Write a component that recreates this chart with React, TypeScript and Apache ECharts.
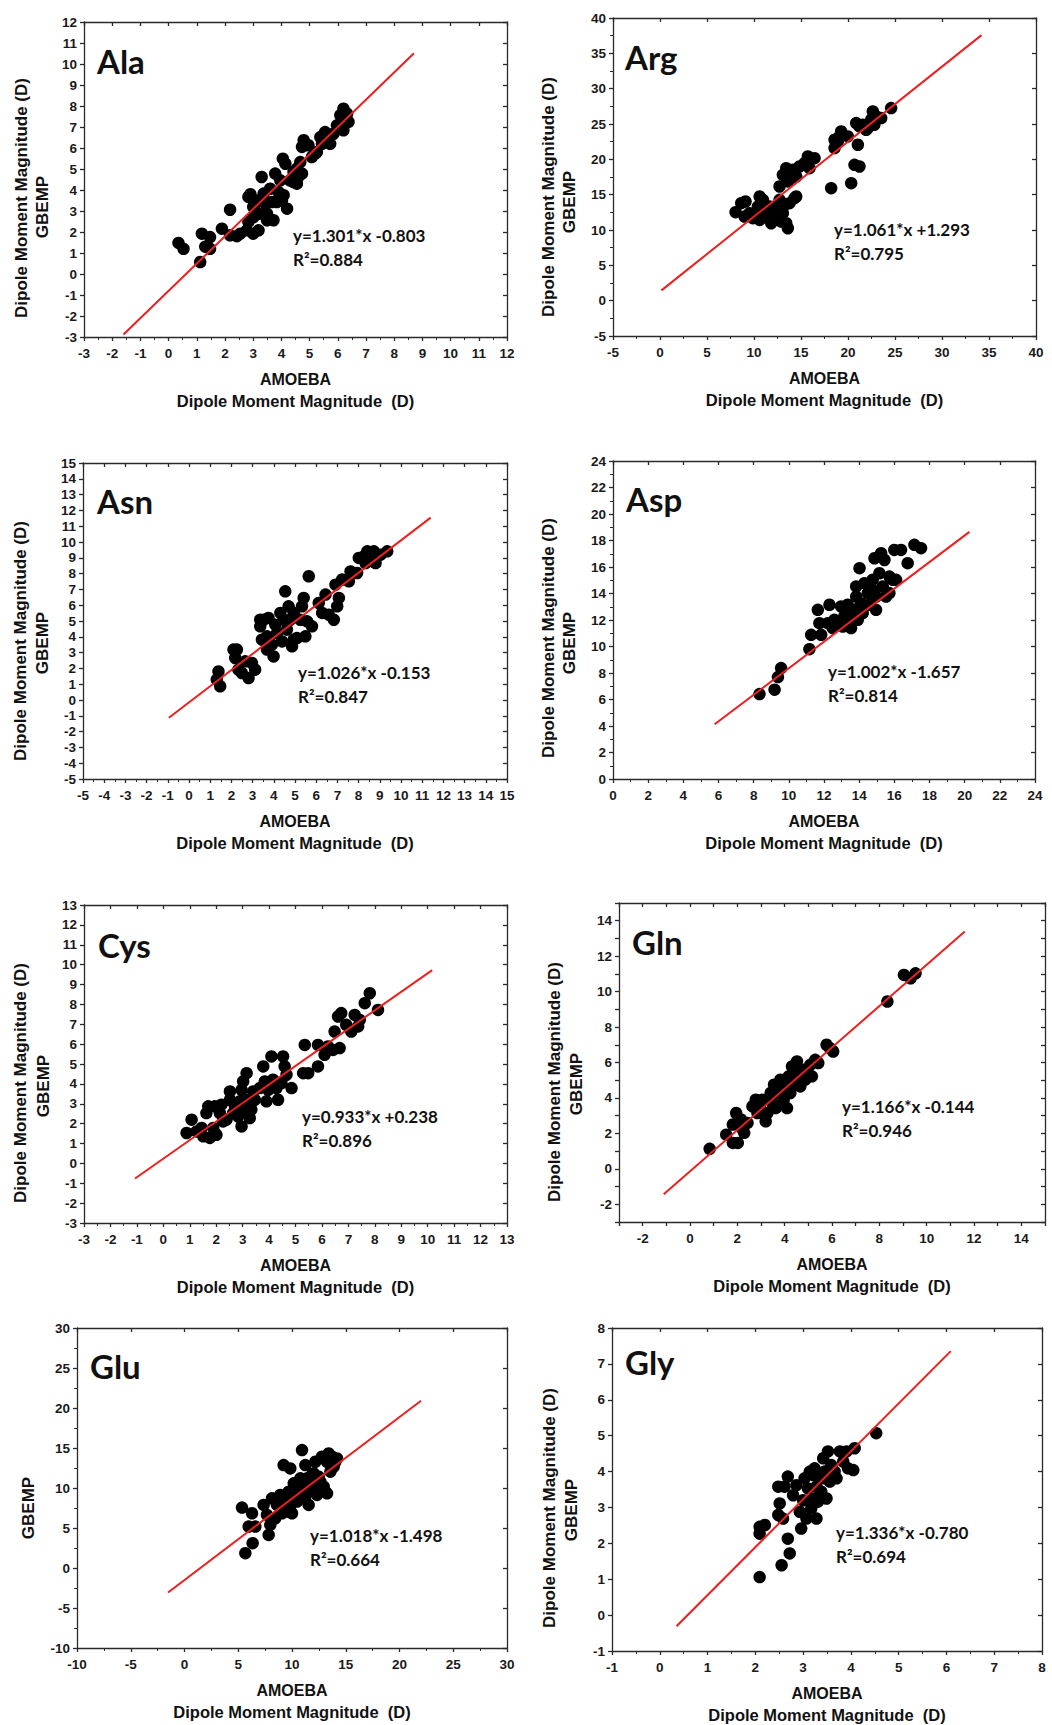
import React, { useEffect, useRef } from "react";
import * as echarts from "echarts";

// AMOEBA (x) vs GBEMP (y) dipole moment magnitudes, in Debye, per residue.
const alaPoints = [[0.35,1.48],[0.53,1.2],[1.12,0.57],[1.18,1.92],[1.3,1.3],[1.47,1.2],[1.47,1.76],[1.89,2.16],[2.18,3.06],[2.18,1.84],[2.42,1.8],[2.54,1.92],[2.77,2.08],[2.83,2.48],[3.0,2.7],[3.0,1.92],[3.19,2.08],[2.83,3.67],[2.9,3.8],[3.07,3.35],[3.19,2.87],[3.3,4.62],[3.37,3.83],[3.43,3.35],[3.49,2.87],[3.6,4.06],[3.66,3.43],[3.72,2.56],[3.78,4.78],[3.9,3.9],[3.96,4.46],[4.02,3.5],[4.08,3.75],[4.2,3.11],[4.05,5.49],[4.14,5.25],[4.3,4.46],[4.43,4.38],[4.55,5.02],[4.6,4.62],[4.67,5.33],[4.73,4.78],[4.55,4.3],[4.73,6.05],[4.79,6.37],[4.96,6.13],[5.08,5.57],[5.2,5.73],[5.26,5.81],[5.38,6.52],[5.44,6.2],[5.55,6.76],[5.67,6.44],[5.73,6.2],[5.85,6.68],[5.97,7.08],[6.09,7.56],[6.15,7.0],[6.2,7.87],[6.33,7.3],[6.33,7.63],[6.38,7.24],[6.2,6.84],[5.64,6.36],[3.84,3.43],[3.49,2.56],[3.13,3.5],[4.43,4.86],[3.0,3.2]];

const argPoints = [[8.04,12.52],[8.64,13.8],[9.1,14.03],[9.0,11.9],[9.53,12.38],[9.88,11.67],[10.6,14.74],[10.41,13.32],[10.95,14.27],[10.6,11.43],[11.3,12.85],[11.48,11.67],[11.83,10.96],[12.0,12.38],[12.36,13.09],[12.54,11.9],[12.72,14.27],[12.9,11.2],[13.25,13.56],[13.43,10.96],[13.6,10.25],[13.07,12.38],[13.78,13.8],[14.31,14.5],[14.49,14.74],[12.72,16.16],[13.07,17.81],[13.6,16.87],[13.78,18.05],[14.14,18.52],[14.49,17.57],[14.84,18.99],[15.38,19.46],[15.73,20.41],[15.91,18.75],[16.44,20.17],[13.43,18.75],[13.96,17.34],[18.21,15.92],[18.57,22.77],[18.57,21.59],[18.92,22.53],[19.27,23.95],[19.1,23.24],[19.98,23.24],[20.34,16.63],[20.69,19.22],[21.05,22.06],[21.22,18.99],[20.87,25.13],[21.22,24.66],[21.58,24.89],[22.1,24.42],[22.46,25.6],[22.64,26.78],[22.99,26.07],[23.53,25.84],[24.59,27.25],[22.8,24.89],[21.93,24.18],[10.95,12.38],[11.65,13.32],[12.18,11.43],[12.72,12.85],[10.24,12.38]];

const asnPoints = [[1.31,1.29],[1.39,1.81],[1.47,0.87],[2.1,3.19],[2.18,2.66],[2.26,3.19],[2.33,1.92],[2.49,1.71],[2.65,2.45],[2.81,1.39],[2.97,2.34],[3.12,1.92],[3.36,4.66],[3.44,3.82],[3.52,5.08],[3.68,3.19],[3.75,5.19],[3.91,3.5],[3.99,2.76],[4.07,4.77],[4.15,4.24],[4.31,5.51],[4.39,3.71],[4.46,5.08],[4.54,6.88],[4.62,4.45],[4.7,5.93],[4.78,5.08],[4.86,3.4],[4.94,5.51],[5.09,3.92],[5.25,5.08],[5.33,5.93],[5.41,6.46],[5.49,4.03],[5.57,4.98],[5.65,7.83],[5.8,4.66],[6.12,6.14],[6.28,5.51],[6.44,6.67],[6.59,5.4],[6.83,5.08],[6.99,5.93],[7.07,6.46],[6.91,7.3],[7.22,7.62],[7.54,7.51],[7.62,8.14],[7.93,8.04],[8.01,8.99],[8.25,9.09],[8.41,9.41],[8.56,8.88],[8.72,9.41],[8.8,8.67],[9.04,9.2],[9.35,9.41],[8.33,8.67],[3.68,4.03],[4.94,3.82],[3.36,5.08]];

const aspPoints = [[8.33,6.41],[9.19,6.74],[9.38,7.69],[9.56,8.37],[11.17,9.8],[11.27,10.88],[11.65,12.77],[11.74,11.76],[11.84,10.88],[12.31,13.15],[12.22,11.76],[12.5,11.39],[12.78,11.89],[12.97,13.02],[13.07,11.51],[13.16,12.27],[13.35,13.15],[13.45,12.01],[13.54,11.39],[13.73,12.77],[13.83,13.77],[13.92,12.01],[14.02,15.91],[14.11,13.27],[13.83,14.53],[14.2,12.52],[14.3,14.78],[14.49,14.03],[14.58,13.15],[14.77,15.04],[14.87,16.66],[14.96,13.77],[14.96,12.77],[15.15,15.53],[15.25,17.04],[15.34,14.53],[15.44,16.53],[15.53,13.77],[15.72,15.28],[15.91,15.03],[16.0,17.29],[16.1,15.03],[16.38,17.29],[16.76,16.29],[17.14,17.67],[17.52,17.42],[15.72,14.03],[14.77,14.28],[13.26,12.77],[12.59,12.01]];

const cysPoints = [[0.88,1.53],[1.07,2.2],[1.26,1.61],[1.45,1.78],[1.51,1.36],[1.63,2.53],[1.7,2.87],[1.76,1.28],[1.89,1.78],[1.95,2.87],[2.01,1.44],[2.14,2.53],[2.2,2.95],[2.26,2.11],[2.39,2.2],[2.52,3.2],[2.52,3.62],[2.64,2.53],[2.71,2.87],[2.83,2.36],[2.89,3.12],[2.96,3.7],[2.96,1.86],[3.02,4.12],[3.08,2.7],[3.15,4.54],[3.21,3.2],[3.27,2.28],[3.33,2.7],[3.46,3.2],[3.65,3.79],[3.78,4.88],[3.84,4.12],[3.9,3.12],[3.97,3.7],[4.09,5.38],[4.15,4.21],[4.28,3.79],[4.34,3.2],[4.47,4.04],[4.53,5.38],[4.59,4.88],[4.66,4.46],[4.85,3.79],[5.29,4.54],[5.35,5.96],[5.48,4.54],[5.85,4.88],[5.85,5.96],[6.1,5.46],[6.23,5.88],[6.42,5.71],[6.48,6.63],[6.61,7.39],[6.67,5.8],[6.73,7.56],[6.92,6.97],[7.11,6.63],[7.24,7.47],[7.43,7.22],[7.62,8.06],[7.81,8.56],[8.12,7.72],[7.37,6.89],[3.4,3.62]];

const glnPoints = [[0.83,1.13],[1.53,1.93],[1.81,1.46],[2.02,1.46],[1.81,2.5],[1.95,3.15],[2.16,2.78],[2.29,2.03],[2.43,2.59],[2.64,3.53],[2.78,3.9],[2.85,3.15],[2.99,3.34],[3.06,3.9],[3.2,2.68],[3.27,3.15],[3.41,4.28],[3.48,3.71],[3.55,4.75],[3.62,3.43],[3.76,4.28],[3.82,5.03],[3.96,3.9],[4.03,4.65],[4.1,3.43],[4.17,5.22],[4.24,4.28],[4.31,5.78],[4.38,4.84],[4.52,6.06],[4.59,5.31],[4.66,4.65],[4.8,5.59],[4.87,5.03],[5.08,5.87],[5.15,5.22],[5.29,6.15],[5.42,5.97],[5.77,7.0],[5.91,6.81],[6.05,6.62],[8.34,9.44],[9.04,10.94],[9.32,10.75],[9.53,11.03],[3.89,4.56],[3.06,3.15],[2.23,2.21]];

const gluPoints = [[5.35,7.55],[5.66,1.85],[5.97,5.18],[6.28,6.84],[6.34,3.1],[6.59,5.18],[7.36,7.88],[7.67,6.63],[7.83,4.14],[7.98,5.38],[8.14,8.71],[8.45,6.22],[8.6,7.88],[8.91,9.13],[9.07,6.84],[9.22,12.87],[9.38,7.88],[9.53,8.3],[9.69,9.54],[9.84,12.45],[10.0,6.84],[10.16,10.58],[10.31,9.13],[10.47,8.3],[10.62,9.96],[10.78,8.71],[10.93,14.74],[11.09,10.17],[11.24,12.87],[11.24,8.92],[11.4,11.21],[11.55,7.88],[11.71,9.75],[11.86,11.62],[12.02,10.37],[12.17,13.28],[12.33,9.13],[12.64,10.79],[12.79,13.91],[12.95,10.17],[13.1,9.54],[13.26,13.28],[13.41,14.32],[13.57,12.04],[13.88,12.66],[14.03,13.28],[14.19,13.7],[13.72,13.91],[13.26,9.33],[9.53,7.05],[9.84,7.88],[10.47,9.54],[10.78,11.21],[12.02,11.83],[12.48,11.41]];

const glyPoints = [[2.09,1.06],[2.09,2.46],[2.09,2.27],[2.2,2.51],[2.48,2.79],[2.48,3.58],[2.51,3.11],[2.55,1.39],[2.58,2.69],[2.61,3.58],[2.68,3.86],[2.68,2.13],[2.72,1.72],[2.79,3.34],[2.86,3.62],[2.93,2.88],[2.96,2.41],[3.0,3.2],[3.03,3.81],[3.07,2.69],[3.1,3.53],[3.14,4.0],[3.17,2.97],[3.21,3.25],[3.24,4.09],[3.28,3.58],[3.31,3.16],[3.35,3.81],[3.38,3.44],[3.42,4.37],[3.45,4.0],[3.49,3.25],[3.52,4.56],[3.56,3.72],[3.59,4.18],[3.66,4.0],[3.7,3.81],[3.77,4.56],[3.84,4.28],[3.91,4.56],[3.94,4.09],[4.05,4.04],[4.08,4.65],[4.53,5.07],[3.28,2.69],[3.45,3.81],[3.21,3.9]];

// Linear fits: slope, intercept, R², and the x span over which each fit line is drawn.
const fitSlopes = [1.301, 1.061, 1.026, 1.002, 0.933, 1.166, 1.018, 1.336];
const fitIntercepts = [-0.803, 1.293, -0.153, -1.657, 0.238, -0.144, -1.498, -0.78];
const fitR2 = ["0.884", "0.795", "0.847", "0.814", "0.896", "0.946", "0.664", "0.694"];
const fitSpans = [[-1.6, 8.7], [0.15, 34.2], [-0.95, 11.4], [5.78, 20.27], [-1.07, 10.17], [-1.11, 11.61], [-1.53, 22.0], [0.35, 6.09]];

const residues = ["Ala", "Arg", "Asn", "Asp", "Cys", "Gln", "Glu", "Gly"];
const pointSets = [alaPoints, argPoints, asnPoints, aspPoints, cysPoints, glnPoints, gluPoints, glyPoints];

// Axis ranges: [min, max, interval]
const xRanges = [[-3, 12, 1], [-5, 40, 5], [-5, 15, 1], [0, 24, 2], [-3, 13, 1], [-3, 15, 1], [-10, 30, 5], [-1, 8, 1]];
const yRanges = [[-3, 12, 1], [-5, 40, 5], [-5, 15, 1], [0, 24, 2], [-3, 13, 1], [-3, 15, 1], [-10, 30, 5], [-1, 8, 1]];
// Label every n-th tick (Gln shows even values only)
const labelEvery = [1, 1, 1, 1, 1, 2, 1, 1];

// Layout of each panel (plot box in px) and its annotations
const layout = [
  { grid: { left: 84, top: 22, width: 423, height: 315 }, title: [97, 61], eq: [293, 235], yName: [21, 42, 198, 207], showDipoleY: true },
  { grid: { left: 613, top: 18, width: 423, height: 318 }, title: [625, 57], eq: [834, 229], yName: [548, 569, 197, 202], showDipoleY: true },
  { grid: { left: 83, top: 463, width: 424, height: 316 }, title: [97, 501], eq: [298, 672], yName: [20, 42, 641, 643], showDipoleY: true },
  { grid: { left: 613, top: 461, width: 422, height: 318 }, title: [626, 499], eq: [828, 671], yName: [548, 569, 638, 643], showDipoleY: true },
  { grid: { left: 84, top: 905, width: 423, height: 318 }, title: [98, 945], eq: [302, 1116], yName: [20, 43, 1083, 1086], showDipoleY: true },
  { grid: { left: 619, top: 903, width: 426, height: 319 }, title: [632, 942], eq: [842, 1106], yName: [554, 576, 1082, 1084], showDipoleY: true },
  { grid: { left: 77, top: 1328, width: 430, height: 320 }, title: [90, 1366], eq: [310, 1535], yName: [12, 28, 1508, 1508], showDipoleY: false },
  { grid: { left: 612, top: 1328, width: 430, height: 323 }, title: [625, 1362], eq: [836, 1532], yName: [549, 571, 1508, 1510], showDipoleY: true },
];

const TICK_FONT = "'Liberation Sans', Arial, sans-serif";
const TEXT_FONT = "Lato, 'Open Sans', sans-serif";
const AXIS_COLOR = "#2a2a2a";

function fmtEquation(m: number, b: number) {
  const sign = b < 0 ? "-" : "+";
  return `y=${m.toFixed(3)}*x ${sign}${Math.abs(b).toFixed(3)}`;
}

function textEl(text: string, x: number, y: number, font: string, align = "left", rotation = 0) {
  return {
    type: "text",
    x,
    y,
    rotation,
    silent: true,
    style: {
      text,
      x: 0,
      y: 0,
      font,
      fill: "#111",
      textAlign: align,
      textVerticalAlign: "middle",
      align,
      verticalAlign: "middle",
    },
  };
}

function buildOption() {
  const grid: any[] = [];
  const xAxis: any[] = [];
  const yAxis: any[] = [];
  const series: any[] = [];
  const graphic: any[] = [];

  residues.forEach((name, i) => {
    const L = layout[i];
    grid.push({ ...L.grid, containLabel: false });
    const [xmin, xmax, xint] = xRanges[i];
    const [ymin, ymax, yint] = yRanges[i];
    const every = labelEvery[i];
    const labelFmt = (v: number) => {
      const r = Math.round(v);
      if (every > 1 && Math.abs(r % every) !== 0) return "";
      return String(r);
    };
    const axisLine = { show: true, onZero: false, lineStyle: { color: AXIS_COLOR, width: 1.3 } };
    const minorOn = every === 1;
    const tickStyle = { color: AXIS_COLOR, width: 1.3 };
    const labelStyle = { show: true, fontSize: 13.5, fontWeight: "bold", fontFamily: TICK_FONT, color: "#1a1a1a", formatter: labelFmt };

    xAxis.push({
      type: "value", gridIndex: i, position: "bottom",
      min: xmin, max: xmax, interval: xint,
      axisLine, splitLine: { show: false },
      axisTick: { show: true, inside: false, length: 4, lineStyle: tickStyle },
      minorTick: { show: minorOn, splitNumber: 2, length: 3, lineStyle: { color: AXIS_COLOR, width: 1 } },
      minorSplitLine: { show: false },
      axisLabel: { ...labelStyle, margin: 9 },
    });
    xAxis.push({
      type: "value", gridIndex: i, position: "top",
      min: xmin, max: xmax, interval: xint,
      axisLine, splitLine: { show: false },
      axisTick: { show: true, inside: true, length: 4, lineStyle: tickStyle },
      axisLabel: { show: false },
    });
    yAxis.push({
      type: "value", gridIndex: i, position: "left",
      min: ymin, max: ymax, interval: yint,
      axisLine, splitLine: { show: false },
      axisTick: { show: true, inside: false, length: 4, lineStyle: tickStyle },
      minorTick: { show: minorOn && yint > 1, splitNumber: 2, length: 3, lineStyle: { color: AXIS_COLOR, width: 1 } },
      minorSplitLine: { show: false },
      axisLabel: { ...labelStyle, margin: 7 },
    });
    yAxis.push({
      type: "value", gridIndex: i, position: "right",
      min: ymin, max: ymax, interval: yint,
      axisLine, splitLine: { show: false },
      axisTick: { show: true, inside: true, length: 4, lineStyle: tickStyle },
      axisLabel: { show: false },
    });

    series.push({
      type: "scatter",
      name: name,
      xAxisIndex: 2 * i,
      yAxisIndex: 2 * i,
      data: pointSets[i],
      symbol: "circle",
      symbolSize: 12.5,
      itemStyle: { color: "#000", opacity: 1 },
      z: 2,
    });

    const m = fitSlopes[i];
    const b = fitIntercepts[i];
    const [x0, x1] = fitSpans[i];
    series.push({
      type: "line",
      name: name + " fit",
      xAxisIndex: 2 * i,
      yAxisIndex: 2 * i,
      data: [[x0, m * x0 + b], [x1, m * x1 + b]],
      symbol: "none",
      showSymbol: false,
      lineStyle: { color: "#ec1f1f", width: 2 },
      z: 3,
    });

    // Annotations
    const g = L.grid;
    const cx = g.left + g.width / 2;
    const bottom = g.top + g.height;
    graphic.push(textEl(name, L.title[0], L.title[1], `bold 33px ${TEXT_FONT}`));
    graphic.push(textEl(fmtEquation(m, b), L.eq[0], L.eq[1], `bold 17px ${TEXT_FONT}`));
    graphic.push(textEl(`R²=${fitR2[i]}`, L.eq[0], L.eq[1] + 24, `bold 17px ${TEXT_FONT}`));
    graphic.push(textEl("AMOEBA", cx, bottom + 42, `bold 16px ${TICK_FONT}`, "center"));
    graphic.push(textEl("Dipole Moment Magnitude  (D)", cx, bottom + 64, `bold 16.5px ${TICK_FONT}`, "center"));
    const [dx, gx, dy, gy] = L.yName;
    if (L.showDipoleY) {
      graphic.push(textEl("Dipole Moment Magnitude (D)", dx, dy, `bold 17px ${TICK_FONT}`, "center", Math.PI / 2));
    }
    graphic.push(textEl("GBEMP", gx, gy, `bold 17px ${TICK_FONT}`, "center", Math.PI / 2));
  });

  return {
    animation: false,
    backgroundColor: "#ffffff",
    grid,
    xAxis,
    yAxis,
    series,
    graphic,
  };
}

export default function App() {
  const ref = useRef<HTMLDivElement>(null);
  useEffect(() => {
    document.body.style.margin = "0";
    if (!ref.current) return;
    const chart = echarts.init(ref.current, null, { renderer: "svg" });
    chart.setOption(buildOption() as any);
    return () => chart.dispose();
  }, []);
  return <div ref={ref} style={{ width: 1052, height: 1725, background: "#fff" }} />;
}
